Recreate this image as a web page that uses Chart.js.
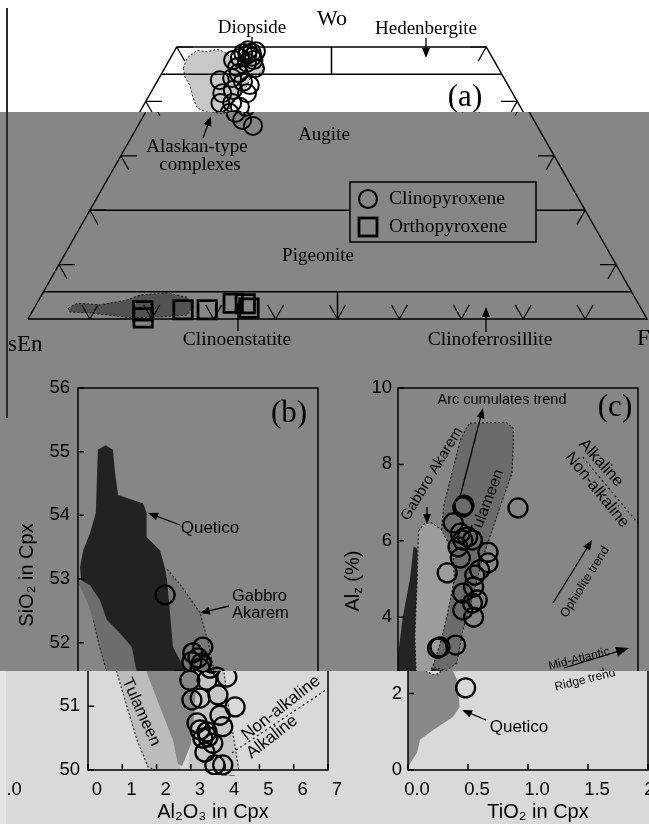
<!DOCTYPE html>
<html><head><meta charset="utf-8">
<script src="https://cdn.jsdelivr.net/npm/chart.js@4.4.1/dist/chart.umd.min.js"></script>
<style>
html,body{margin:0;padding:0;background:#fff;}
#root{position:relative;width:649px;height:824px;overflow:hidden;}
.band{position:absolute;left:0;top:0;width:649px;height:824px;}
.inner{position:absolute;top:0;width:700px;height:824px;}
.inner canvas{position:absolute;left:0;top:0;}
#seam{position:absolute;left:6px;top:8px;width:2px;height:410px;background:#2a2a2a;}
#strip{position:absolute;left:0;top:671px;width:6px;height:153px;background:#e4e4e4;}
</style></head>
<body><div id="root"></div>
<script>
const SERIF = '"Liberation Serif","Times New Roman",serif';
const SANS = '"Liberation Sans",Arial,sans-serif';

// ---------- (a) pyroxene quadrilateral: compositions in mol% ----------
const cpxWo = [48.9,48.0,49.4,48.2,47.1,47.6,46.3,43.9,44.3,43.6,43.0,41.5,42.1,41.5,39.7,39.7,39.0,37.9,36.6,35.5,46.1,49.0,48.6,47.6,49.2,45.2];
const cpxFs = [11.3,11.2,11.8,13.1,12.8,10.3,11.6,10.0,11.8,13.9,15.3,11.6,13.0,15.6,12.2,14.1,15.7,14.6,16.3,18.6,14.6,12.6,12.1,13.6,13.2,12.4];
const opxWo = [1.5,0.2,1.7,1.7,2.9,2.8,2.0];
const opxFs = [17.8,18.5,24.2,28.1,31.7,33.7,34.7];
const alaskaCpxWo = [46.1,48.0,49.4,49.1,49.6,49.1,48.0,47.6,47.6,46.9,45.4,44.3,42.1,40.3,38.4,37.7,38.1,38.8,40.8,43.0,44.5];
const alaskaCpxFs = [3.0,2.7,3.6,5.4,6.7,8.1,9.9,12.2,14.3,15.5,16.1,14.7,15.0,14.3,14.1,12.4,10.6,8.9,7.2,5.6,4.1];
const alaskaOpxWo = [2.0,2.9,2.6,3.5,4.4,4.8,4.0,2.2,0.7,0.4,0.2,0.7,1.1,1.3];
const alaskaOpxFs = [5.5,6.5,10.4,14.3,15.9,20.1,23.7,25.6,25.3,21.1,16.9,12.9,9.5,6.1];
const woTicks = [10,20,30,40,50];
const fsTicks = [10,20,30,40,50,60,70,80,90];
const woLines = [45,20,5];

// ---------- (b) SiO2 vs Al2O3 ----------
const cpxAl2O3 = [2.54,3.64,3.35,3.5,3.32,3.6,2.97,3.47,4.05,3.03,3.27,3.79,4.29,3.85,3.18,3.93,3.27,3.47,3.35,3.64,3.41,3.7,3.93,3.5,3.56];
const cpxSiO2  = [52.75,51.93,51.84,51.76,51.7,51.68,51.41,51.41,51.46,51.1,51.13,51.18,50.99,50.86,50.74,50.68,50.63,50.6,50.5,50.42,50.28,50.08,50.08,50.52,51.6];
const quetB_Al = [0.8,1.02,1.08,1.17,1.6,1.9,2.0,2.0,2.39,2.53,2.6,2.68,2.77,2.97,3.18,3.1,3.0,2.85,2.74,2.62,2.48,2.1,1.72,1.57,1.22,0.84,0.64,0.35,0.09,0.06,0.15,0.35,0.52,0.55,0.58];
const quetB_Si = [55.1,55.03,54.67,54.32,54.24,54.19,54.04,53.66,53.45,53.19,52.98,52.5,51.93,51.73,51.52,50.9,50.4,50.2,50.06,50.1,50.47,50.99,51.52,51.93,52.15,52.36,52.67,52.9,52.98,53.19,53.45,53.72,54.04,54.55,55.03];
const tulB_Al = [0.0,0.3,0.5,0.62,0.85,1.14,1.43,1.75,1.95,2.7,2.3,1.2,0.3];
const tulB_Si = [52.95,52.6,52.25,51.95,51.52,50.99,50.47,50.05,50.0,50.0,51.5,52.5,52.98];
const tulBEdge_Al = [0.45,0.62,0.85,1.14,1.43,1.75,1.95];
const tulBEdge_Si = [52.35,51.95,51.52,50.99,50.47,50.05,50.0];
const gabB_Al = [2.6,3.0,3.56,3.8,3.95,4.1,4.25,4.4,2.9,3.05,3.18,2.97,2.77,2.68];
const gabB_Si = [53.15,52.9,52.47,52.0,51.6,51.0,50.5,50.0,50.0,50.6,51.52,51.73,51.93,52.6];
const alkB_Al = [4.2,7.0];
const alkB_Si = [50.27,51.28];
const bTicksX = [0,1,2,3,4,5,6,7];
const bTicksY = [50,51,52,53,54,55,56];

// ---------- (c) Alz vs TiO2 ----------
const cpxTiO2 = [0.54,0.55,0.46,1.0,0.52,0.58,0.54,0.62,0.5,0.52,0.75,0.75,0.68,0.64,0.41,0.54,0.63,0.66,0.54,0.62,0.63,0.33,0.35,0.48,0.48];
const cpxAlz  = [6.88,6.93,6.47,6.86,6.2,6.1,6.02,6.02,5.84,5.55,5.7,5.42,5.24,5.1,5.16,4.63,4.79,4.45,4.19,4.37,4.0,3.19,3.22,3.27,2.15];
const quetC_Ti = [0,0.02,0.075,0.1,0.21,0.375,0.43,0.41,0.37,0.16,0.15,0.17,0.16,0.13,0.1,0.04,0];
const quetC_Al = [0.05,0.18,0.45,0.79,1.05,1.39,1.65,2.36,2.62,2.75,3.6,5.0,5.8,5.85,5.0,4.0,3.0];
const gabC_Ti = [0.17,0.22,0.28,0.36,0.41,0.46,0.47,0.42,0.36,0.3,0.26,0.2,0.15,0.14,0.16];
const gabC_Al = [6.25,6.45,6.47,6.3,6.0,5.58,5.0,4.2,3.4,2.8,2.52,2.5,2.6,3.5,5.0];
const tulC_Ti = [0.6,0.9,0.96,0.96,0.95,0.88,0.82,0.7,0.6,0.54,0.49,0.4,0.3,0.27,0.33,0.38,0.45,0.52,0.57];
const tulC_Al = [9.08,9.1,8.95,8.5,7.77,7.15,6.6,5.5,4.27,3.66,2.8,2.6,2.7,3.2,5.0,6.9,7.77,8.64,8.95];
const alkC_Ti = [1.54,2.0];
const alkC_Al = [8.19,6.46];
const cTicksX = [0,0.5,1.0,1.5,2.0];
const cTicksY = [0,2,4,6,8,10];

// ---------- band palettes (the reference is split into shifted bands) ----------
const PAL = {
  top: {bg:'#ffffff', aCpx:'#c8c8c8', aOpx:'#b0b0b0', bQ:'#3a3a3a', bT:'#cfcfcf', bG:'#d6d6d6', cQ:'#3a3a3a', cG:'#e6e6e6', cT:'#b8b8b8'},
  mid: {bg:'#868686', aCpx:'#6a6a6a', aOpx:'#525252', bQ:'#222222', bT:'#6d6d6d', bG:'#767676', cQ:'#242424', cG:'#9c9c9c', cT:'#6b6b6b'},
  bot: {bg:'#d9d9d9', aCpx:'#c0c0c0', aOpx:'#b0b0b0', bQ:'#878787', bT:'#bcbcbc', bG:'#c6c6c6', cQ:'#888888', cG:'#e8e8e8', cT:'#a8a8a8'}
};
const BANDS = [
  {y0:0,   y1:112, x0:0, x1:649, dx:-6,   pal:'top'},
  {y0:112, y1:671, x0:0, x1:649, dx:0,    pal:'mid'},
  {y0:671, y1:775, x0:10, x1:649, dx:10,  pal:'bot'},
  {y0:671, y1:775, x0:0, x1:10,  dx:-639, pal:'bot'},
  {y0:775, y1:824, x0:26, x1:649, dx:19,  pal:'bot'},
  {y0:775, y1:824, x0:0, x1:26,  dx:-629, pal:'bot'}
];

// ---------- helpers ----------
const tern = (wo, fs) => ({x: fs/100 + wo/200, y: wo/100});
const pts = (xs, ys) => xs.map((v,i) => ({x:v, y:ys[i]}));
function polyDS(data, color, opts) {
  const d = data.slice(); d.push(data[0]);
  return Object.assign({data:d, showLine:true, fill:'shape', backgroundColor:color, borderColor:'#111',
    borderWidth:0, pointRadius:0, pointHoverRadius:0, tension:0, order:10}, opts||{});
}
function lineDS(data, opts) {
  return Object.assign({data, showLine:true, fill:false, borderColor:'#000', borderWidth:1.5,
    pointRadius:0, pointHoverRadius:0, tension:0, order:5, clip:false}, opts||{});
}
function markDS(data, style, r, bw) {
  return {data, showLine:false, pointStyle:style, pointRadius:r, pointHoverRadius:r, pointBorderWidth:bw,
    borderWidth:bw, pointBorderColor:'#000', borderColor:'#000', pointBackgroundColor:'rgba(0,0,0,0)',
    backgroundColor:'rgba(0,0,0,0)', order:0, clip:false};
}
function drawText(ctx, t) {
  ctx.save();
  ctx.translate(t.x, t.y);
  if (t.rot) ctx.rotate(t.rot*Math.PI/180);
  ctx.fillStyle = '#000'; ctx.textBaseline = 'middle';
  const fam = t.fam || SANS;
  if (t.parts) {
    let w = 0;
    t.parts.forEach(p => { ctx.font = p[1]+'px '+fam; w += ctx.measureText(p[0]).width; });
    let x = -w/2; ctx.textAlign = 'left';
    t.parts.forEach(p => { ctx.font = p[1]+'px '+fam; ctx.fillText(p[0], x, p[2]||0); x += ctx.measureText(p[0]).width; });
  } else {
    ctx.font = (t.size||18)+'px '+fam;
    ctx.textAlign = t.align || 'center';
    ctx.fillText(t.s, 0, 0);
  }
  ctx.restore();
}
function drawArrow(ctx, a) {
  ctx.save(); ctx.strokeStyle = '#000'; ctx.fillStyle = '#000'; ctx.lineWidth = a.w || 1.3;
  const ang = Math.atan2(a.y2-a.y1, a.x2-a.x1);
  const h = a.h === undefined ? 10 : a.h, hw = a.hw || 4;
  const c = Math.cos(ang), s = Math.sin(ang);
  ctx.beginPath(); ctx.moveTo(a.x1, a.y1);
  ctx.lineTo(h ? a.x2 - c*h*0.7 : a.x2, h ? a.y2 - s*h*0.7 : a.y2); ctx.stroke();
  if (h) {
    ctx.beginPath(); ctx.moveTo(a.x2, a.y2);
    ctx.lineTo(a.x2 - c*h + s*hw, a.y2 - s*h - c*hw);
    ctx.lineTo(a.x2 - c*h - s*hw, a.y2 - s*h + c*hw);
    ctx.closePath(); ctx.fill();
  }
  ctx.restore();
}
function annoPlugin(texts, arrows, extra) {
  return {
    id: 'anno',
    beforeDatasetDraw(chart, args) {
      if (args.index === 0) texts.filter(t => t.under).forEach(t => drawText(chart.ctx, t));
    },
    afterDatasetsDraw(chart) {
      const ctx = chart.ctx;
      if (extra) extra(chart);
      arrows.forEach(a => drawArrow(ctx, a));
      texts.filter(t => !t.under).forEach(t => drawText(ctx, t));
    }
  };
}
function framePlugin(xt, yt) {
  return {
    id: 'frame',
    afterDatasetsDraw(chart) {
      const {ctx, chartArea:a, scales:{x, y}} = chart;
      ctx.save(); ctx.strokeStyle = '#000'; ctx.lineWidth = 1.5;
      ctx.strokeRect(a.left, a.top, a.right-a.left, a.bottom-a.top);
      ctx.beginPath();
      xt.forEach(v => { const p = x.getPixelForValue(v); ctx.moveTo(p, a.bottom); ctx.lineTo(p, a.bottom-6); });
      yt.forEach(v => { const p = y.getPixelForValue(v); ctx.moveTo(a.left, p); ctx.lineTo(a.left+6, p); });
      ctx.stroke(); ctx.restore();
    }
  };
}
const ternTicks = {
  id: 'ternTicks',
  afterDatasetsDraw(chart) {
    const {ctx, scales:{x, y}} = chart;
    const P = (w, f) => { const t = tern(w, f); return [x.getPixelForValue(t.x), y.getPixelForValue(t.y)]; };
    const L = 2.6;
    const seg = (p, q) => { ctx.moveTo(p[0], p[1]); ctx.lineTo(q[0], q[1]); };
    ctx.save(); ctx.strokeStyle = '#000'; ctx.lineWidth = 1.2; ctx.beginPath();
    woTicks.forEach(w => {
      seg(P(w,0), P(w,L)); seg(P(w,0), P(w-L,L));
      seg(P(w,100-w), P(w,100-w-L)); seg(P(w,100-w), P(w-L,100-w));
    });
    fsTicks.forEach(f => { seg(P(0,f), P(L,f)); seg(P(0,f), P(L,f-L)); });
    ctx.stroke(); ctx.restore();
  }
};
const baseOpts = (padding, scales) => ({
  responsive:false, animation:false, events:[], devicePixelRatio:1,
  layout:{padding}, scales,
  plugins:{legend:{display:false}, tooltip:{enabled:false}}
});
function axisX(min, max, ticks, cb) {
  return {type:'linear', min, max,
    afterFit: s => { s.height = 34; },
    afterBuildTicks: s => { s.ticks = ticks.map(v => ({value:v})); },
    ticks:{font:{family:SANS, size:18.5}, color:'#000', padding:9, autoSkip:false, maxRotation:0, callback: cb || (v => v)},
    grid:{display:false, drawTicks:false}, border:{display:false}};
}
function axisY(min, max, ticks, pad) {
  return {type:'linear', min, max,
    afterFit: s => { s.width = 40; },
    afterBuildTicks: s => { s.ticks = ticks.map(v => ({value:v})); },
    ticks:{font:{family:SANS, size:18.5}, color:'#000', padding:pad, autoSkip:false, callback: v => v},
    grid:{display:false, drawTicks:false}, border:{display:false}};
}

// ---------- annotations (canvas px) ----------
const A_TEXTS = [
  {s:'Wo', x:338, y:19, size:22, fam:SERIF},
  {s:'Diopside', x:258, y:28, size:19, fam:SERIF},
  {s:'Hedenbergite', x:432, y:29, size:19, fam:SERIF},
  {s:'(a)', x:471, y:98, size:31, fam:SERIF},
  {s:'Augite', x:324, y:135, size:19, fam:SERIF},
  {s:'Alaskan-type', x:197, y:147, size:19, fam:SERIF},
  {s:'complexes', x:200, y:165, size:19, fam:SERIF},
  {s:'Pigeonite', x:318, y:256, size:19, fam:SERIF},
  {s:'Clinoenstatite', x:237, y:340, size:19.5, fam:SERIF},
  {s:'Clinoferrosillite', x:490, y:340, size:19.5, fam:SERIF},
  {s:'sEn', x:8, y:345, size:23, fam:SERIF, align:'left'},
  {s:'F', x:637, y:339, size:23, fam:SERIF, align:'left'},
  {s:'Clinopyroxene', x:389, y:199, size:19.5, fam:SERIF, align:'left'},
  {s:'Orthopyroxene', x:389, y:227, size:19.5, fam:SERIF, align:'left'}
];
const A_ARROWS = [
  {x1:258, y1:37, x2:258, y2:47, h:0},
  {x1:432, y1:38, x2:432, y2:58},
  {x1:203, y1:138, x2:211, y2:116},
  {x1:238, y1:331, x2:238, y2:302},
  {x1:486, y1:332, x2:486, y2:307}
];
const B_TEXTS = [
  {s:'(b)', x:289, y:414, size:31, fam:SERIF},
  {s:'Quetico', x:210, y:528, size:17},
  {s:'Gabbro', x:232, y:596, size:16.5, align:'left'},
  {s:'Akarem', x:232, y:613, size:16.5, align:'left'},
  {s:'Tulameen', x:131, y:712, size:16.5, rot:66},
  {s:'Non-alkaline', x:271, y:708, size:17, rot:-38},
  {s:'Alkaline', x:262, y:737, size:17, rot:-38},
  {s:'SiO₂ in Cpx', x:27, y:575, size:20, rot:-90},
  {s:'Al₂O₃ in Cpx', x:194, y:812, size:20}
];
const B_ARROWS = [
  {x1:180, y1:525, x2:148, y2:513},
  {x1:229, y1:606, x2:200, y2:613}
];
const C_TEXTS = [
  {s:'(c)', x:615, y:408, size:31, fam:SERIF},
  {s:'Arc cumulates trend', x:502, y:400, size:14.5},
  {s:'Gabbro Akarem', x:432, y:474, size:15, rot:-59},
  {s:'Tulameen', x:487, y:503, size:16, rot:-69, under:true},
  {s:'Alkaline', x:601, y:463, size:16.5, rot:48},
  {s:'Non-alkaline', x:597, y:490, size:16.5, rot:51},
  {s:'Ophiolite trend', x:585, y:582, size:12.5, rot:-58},
  {s:'Mid-Atlantic', x:579, y:659, size:12, rot:-14},
  {s:'Ridge trend', x:575, y:680, size:12, rot:-14},
  {s:'Quetico', x:509, y:727, size:17},
  {parts:[['Al',20],['z',13,5],[' (%)',20]], x:353, y:581, rot:-90},
  {s:'TiO₂ in Cpx', x:519, y:812, size:20}
];
const C_ARROWS = [
  {x1:460, y1:497, x2:483, y2:408},
  {x1:427, y1:507, x2:427, y2:524},
  {x1:553, y1:603, x2:592, y2:540},
  {x1:564, y1:668, x2:629, y2:648, h:13, hw:5},
  {x1:476, y1:720, x2:452, y2:710}
];

function legendA(pal) {
  return chart => {
    const ctx = chart.ctx;
    ctx.save();
    ctx.fillStyle = pal.bg; ctx.fillRect(350, 182, 186, 60);
    ctx.strokeStyle = '#000'; ctx.lineWidth = 1.5; ctx.strokeRect(350, 182, 186, 60);
    ctx.lineWidth = 2.2; ctx.beginPath(); ctx.arc(368, 199, 9, 0, Math.PI*2); ctx.stroke();
    ctx.lineWidth = 2.8; ctx.strokeRect(359, 218, 18, 18);
    ctx.restore();
  };
}

function configA(pal) {
  const ds = [
    markDS(cpxWo.map((w,i) => tern(w, cpxFs[i])), 'circle', 9, 2),
    markDS(opxWo.map((w,i) => tern(w, opxFs[i])), 'rect', 13, 2.8),
    lineDS([tern(0,0), tern(0,100), tern(50,50), tern(50,0), tern(0,0)]),
    lineDS([tern(50,25), tern(45,27.5)]),
    lineDS([tern(5,47.5), tern(0,50)]),
    polyDS(alaskaCpxWo.map((w,i) => tern(w, alaskaCpxFs[i])), pal.aCpx, {borderWidth:1, borderDash:[2,2], clip:false}),
    polyDS(alaskaOpxWo.map((w,i) => tern(w, alaskaOpxFs[i])), pal.aOpx, {borderWidth:1, borderDash:[2,2], clip:false})
  ];
  woLines.forEach(w => ds.push(lineDS([tern(w,0), tern(w,100-w)])));
  return {type:'scatter', data:{datasets:ds},
    options: baseOpts({left:28, right:53, top:47, bottom:505},
      {x:{type:'linear', min:0, max:1, display:false}, y:{type:'linear', min:0, max:0.5, display:false}}),
    plugins:[ternTicks, annoPlugin(A_TEXTS, A_ARROWS, legendA(pal))]};
}
function configB(pal) {
  const ds = [
    markDS(pts(cpxAl2O3, cpxSiO2), 'circle', 9.5, 2.3),
    lineDS(pts(alkB_Al, alkB_Si), {borderWidth:1.2, borderDash:[2,3]}),
    lineDS(pts(tulBEdge_Al, tulBEdge_Si), {borderWidth:1.1, borderDash:[2,2], borderColor:'#222'}),
    lineDS(pts(gabB_Al.slice(0,8), gabB_Si.slice(0,8)), {borderWidth:1.1, borderDash:[2,2], borderColor:'#222'}),
    polyDS(pts(quetB_Al, quetB_Si), pal.bQ, {order:10}),
    polyDS(pts(gabB_Al, gabB_Si), pal.bG, {order:11}),
    polyDS(pts(tulB_Al, tulB_Si), pal.bT, {order:12})
  ];
  return {type:'scatter', data:{datasets:ds},
    options: baseOpts({left:38, right:382, top:388, bottom:20},
      {x:axisX(0, 7, bTicksX), y:axisY(50, 56, bTicksY, 8)}),
    plugins:[framePlugin(bTicksX, bTicksY), annoPlugin(B_TEXTS, B_ARROWS)]};
}
function configC(pal) {
  const ds = [
    markDS(pts(cpxTiO2, cpxAlz), 'circle', 9.5, 2.3),
    lineDS(pts(alkC_Ti, alkC_Al), {borderWidth:1.2, borderDash:[2,3]}),
    polyDS(pts(gabC_Ti, gabC_Al), pal.cG, {order:10, borderWidth:1.1, borderDash:[2,2]}),
    polyDS(pts(quetC_Ti, quetC_Al), pal.cQ, {order:11}),
    polyDS(pts(tulC_Ti, tulC_Al), pal.cT, {order:12, borderWidth:1.1, borderDash:[2,2]})
  ];
  return {type:'scatter', data:{datasets:ds},
    options: baseOpts({left:358, right:62, top:388, bottom:20},
      {x:axisX(0, 2, cTicksX, v => Number(v).toFixed(1)), y:axisY(0, 10, cTicksY, 6)}),
    plugins:[framePlugin(cTicksX, cTicksY), annoPlugin(C_TEXTS, C_ARROWS)]};
}

function buildFigure(container, pal) {
  const mk = () => {
    const c = document.createElement('canvas');
    c.width = 700; c.height = 824; c.style.width = '700px'; c.style.height = '824px';
    container.appendChild(c); return c;
  };
  new Chart(mk(), configA(pal));
  new Chart(mk(), configB(pal));
  new Chart(mk(), configC(pal));
}

const root = document.getElementById('root');
BANDS.forEach(b => {
  const d = document.createElement('div');
  d.className = 'band';
  d.style.clipPath = `inset(${b.y0}px ${649-b.x1}px ${824-b.y1}px ${b.x0}px)`;
  d.style.background = PAL[b.pal].bg;
  const inner = document.createElement('div');
  inner.className = 'inner'; inner.style.left = b.dx + 'px';
  d.appendChild(inner); root.appendChild(d);
  buildFigure(inner, PAL[b.pal]);
});
const seam = document.createElement('div'); seam.id = 'seam'; root.appendChild(seam);
const strip = document.createElement('div'); strip.id = 'strip'; root.appendChild(strip);
</script>
</body></html>
